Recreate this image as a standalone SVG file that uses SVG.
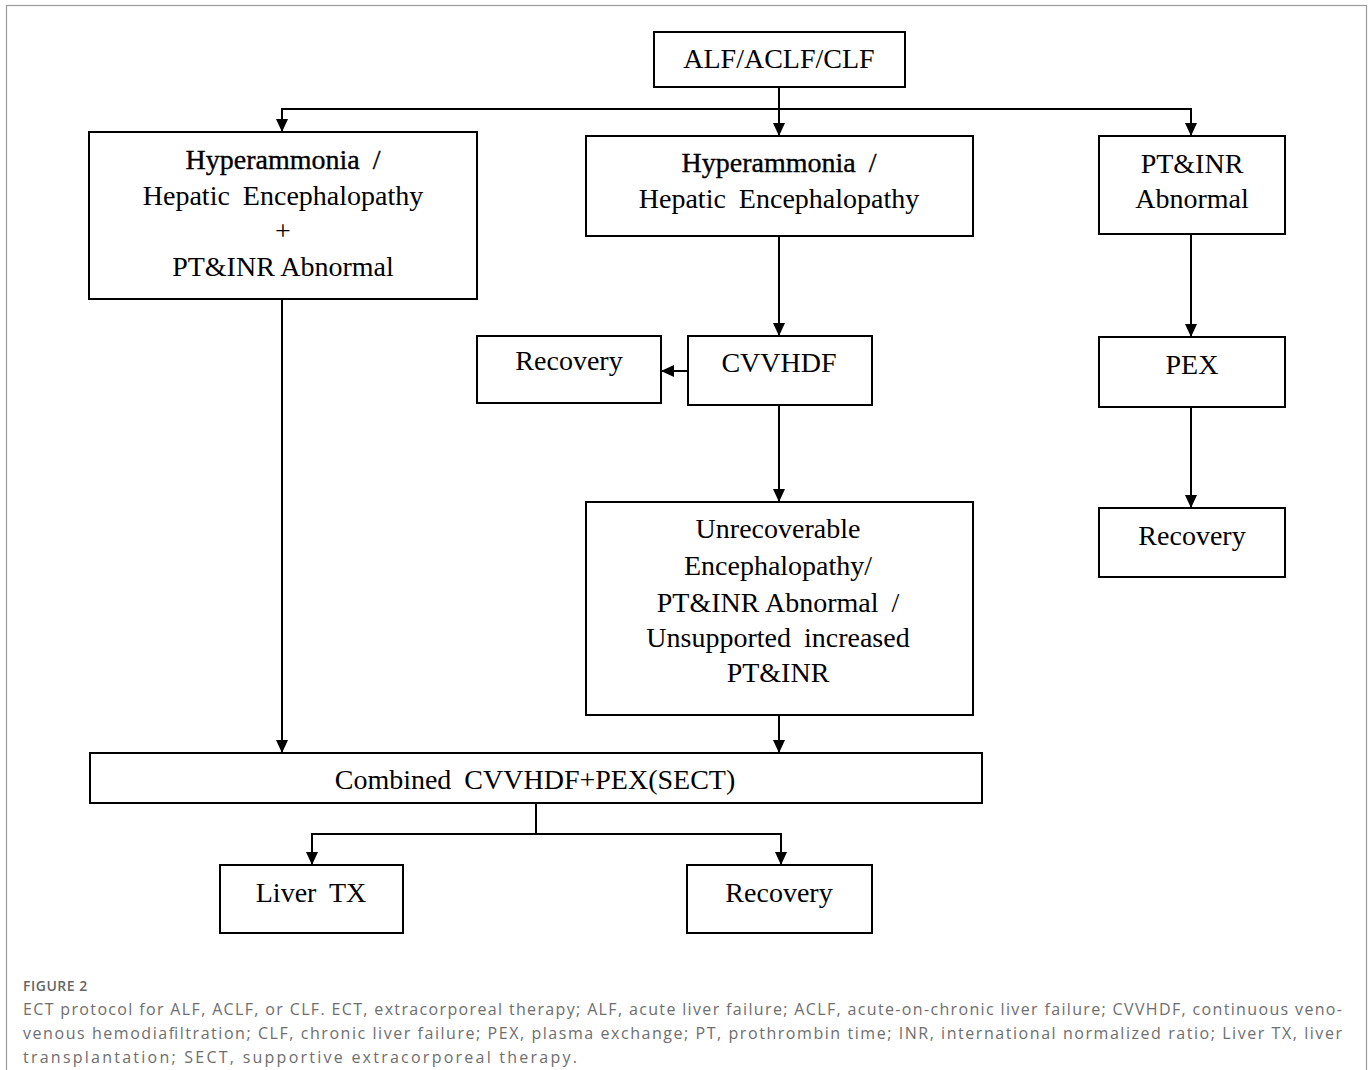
<svg xmlns="http://www.w3.org/2000/svg" width="1371" height="1070" viewBox="0 0 1371 1070">
<style>
  .box { fill: #fff; stroke: #000; stroke-width: 2; }
  .t { font-family: "Liberation Serif", "Times New Roman", serif; font-size: 28px; fill: #000; text-anchor: middle; word-spacing: 6px; }
  .heavy { stroke: #000; stroke-width: 0.35; }
  .conn { fill: none; stroke: #000; stroke-width: 2; }
  .cap { font-family: "Open Sans", "Noto Sans", sans-serif; font-size: 16px; fill: #6e6e6e; }
  .fig { font-family: "Open Sans", "Noto Sans", sans-serif; font-size: 14px; font-weight: 600; fill: #666; letter-spacing: 0.5px; }
</style>
<defs>
  <marker id="arr" viewBox="0 0 13 12" markerWidth="13" markerHeight="12" refX="13" refY="6" orient="auto" markerUnits="userSpaceOnUse">
    <path d="M0,0 L13,6 L0,12 z" fill="#000"/>
  </marker>
</defs>
<rect x="0" y="0" width="1371" height="1070" fill="#fff"/>
<rect x="6.5" y="5.5" width="1360" height="1090" fill="none" stroke="#9a9a9a" stroke-width="1.2"/>

<g id="connectors">
  <line class="conn" x1="779" y1="87" x2="779" y2="136" marker-end="url(#arr)"/>
  <polyline class="conn" points="282,132 282,109 1191,109 1191,136"/>
  <line class="conn" x1="282" y1="109" x2="282" y2="132" marker-end="url(#arr)"/>
  <line class="conn" x1="1191" y1="109" x2="1191" y2="136" marker-end="url(#arr)"/>
  <line class="conn" x1="282" y1="299" x2="282" y2="753" marker-end="url(#arr)"/>
  <line class="conn" x1="779" y1="236" x2="779" y2="336" marker-end="url(#arr)"/>
  <line class="conn" x1="688" y1="371" x2="661" y2="371" marker-end="url(#arr)"/>
  <line class="conn" x1="779" y1="405" x2="779" y2="502" marker-end="url(#arr)"/>
  <line class="conn" x1="779" y1="715" x2="779" y2="753" marker-end="url(#arr)"/>
  <line class="conn" x1="1191" y1="234" x2="1191" y2="337" marker-end="url(#arr)"/>
  <line class="conn" x1="1191" y1="407" x2="1191" y2="508" marker-end="url(#arr)"/>
  <polyline class="conn" points="536,803 536,834"/>
  <polyline class="conn" points="312,865 312,834 781,834 781,865"/>
  <line class="conn" x1="312" y1="834" x2="312" y2="865" marker-end="url(#arr)"/>
  <line class="conn" x1="781" y1="834" x2="781" y2="865" marker-end="url(#arr)"/>
</g>

<g id="n-start">
  <rect class="box" x="654" y="32" width="251" height="55"/>
  <text class="t" x="779" y="68">ALF/ACLF/CLF</text>
</g>
<g id="n-left">
  <rect class="box" x="89" y="132" width="388" height="167"/>
  <text class="t heavy" x="283" y="169">Hyperammonia /</text>
  <text class="t" x="283" y="205">Hepatic Encephalopathy</text>
  <text class="t" x="283" y="240">+</text>
  <text class="t" x="283" y="276" style="word-spacing:0">PT&amp;INR Abnormal</text>
</g>
<g id="n-mid">
  <rect class="box" x="586" y="136" width="387" height="100"/>
  <text class="t heavy" x="779" y="172">Hyperammonia /</text>
  <text class="t" x="779" y="208">Hepatic Encephalopathy</text>
</g>
<g id="n-right">
  <rect class="box" x="1099" y="136" width="186" height="98"/>
  <text class="t" x="1192" y="173">PT&amp;INR</text>
  <text class="t" x="1192" y="208">Abnormal</text>
</g>
<g id="n-recovery1">
  <rect class="box" x="477" y="336" width="184" height="67"/>
  <text class="t" x="569" y="370">Recovery</text>
</g>
<g id="n-cvvhdf">
  <rect class="box" x="688" y="336" width="184" height="69"/>
  <text class="t" x="779" y="372">CVVHDF</text>
</g>
<g id="n-pex">
  <rect class="box" x="1099" y="337" width="186" height="70"/>
  <text class="t" x="1192" y="374">PEX</text>
</g>
<g id="n-unrecov">
  <rect class="box" x="586" y="502" width="387" height="213"/>
  <text class="t" x="778" y="538">Unrecoverable</text>
  <text class="t" x="778" y="575">Encephalopathy/</text>
  <text class="t" x="778" y="612">PT&amp;INR<tspan style="word-spacing:0"> Abnormal</tspan> /</text>
  <text class="t" x="778" y="647">Unsupported increased</text>
  <text class="t" x="778" y="682">PT&amp;INR</text>
</g>
<g id="n-recovery2">
  <rect class="box" x="1099" y="508" width="186" height="69"/>
  <text class="t" x="1192" y="545">Recovery</text>
</g>
<g id="n-combined">
  <rect class="box" x="90" y="753" width="892" height="50"/>
  <text class="t" x="535" y="789">Combined CVVHDF+PEX(SECT)</text>
</g>
<g id="n-livertx">
  <rect class="box" x="220" y="865" width="183" height="68"/>
  <text class="t" x="311" y="902">Liver TX</text>
</g>
<g id="n-recovery3">
  <rect class="box" x="687" y="865" width="185" height="68"/>
  <text class="t" x="779" y="902">Recovery</text>
</g>

<g id="caption">
  <text class="fig" x="23" y="991">FIGURE 2</text>
  <text class="cap" x="23" y="1015" textLength="1319" lengthAdjust="spacing">ECT protocol for ALF, ACLF, or CLF. ECT, extracorporeal therapy; ALF, acute liver failure; ACLF, acute-on-chronic liver failure; CVVHDF, continuous veno-</text>
  <text class="cap" x="23" y="1039" textLength="1319" lengthAdjust="spacing">venous hemodiafiltration; CLF, chronic liver failure; PEX, plasma exchange; PT, prothrombin time; INR, international normalized ratio; Liver TX, liver</text>
  <text class="cap" x="23" y="1063" textLength="554" lengthAdjust="spacing">transplantation; SECT, supportive extracorporeal therapy.</text>
</g>
</svg>
